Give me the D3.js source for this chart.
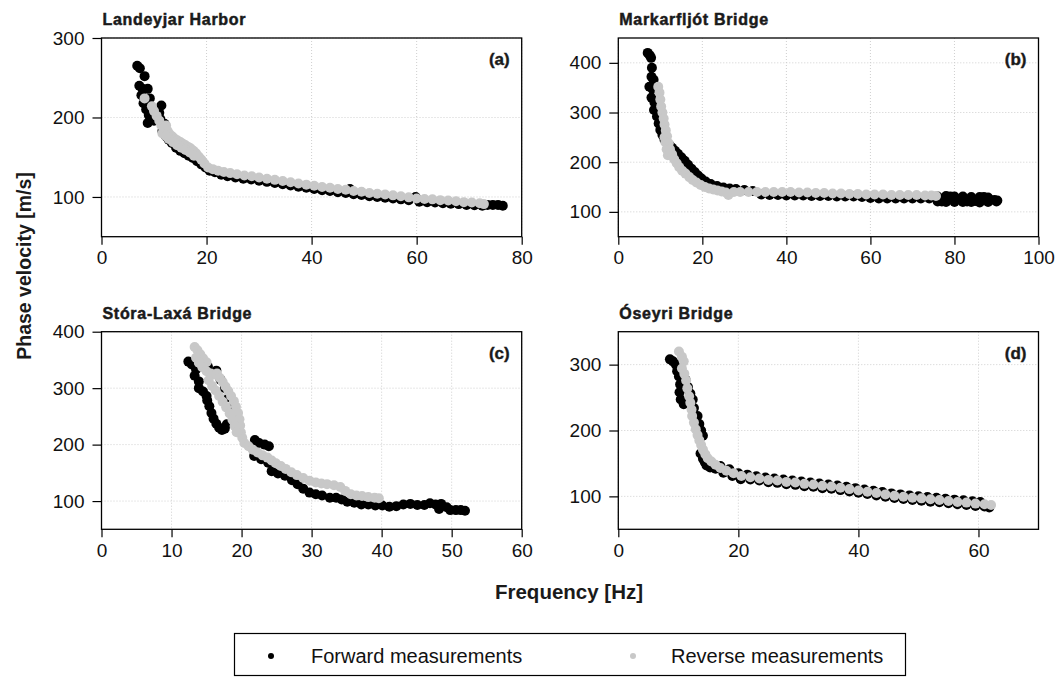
<!DOCTYPE html>
<html>
<head>
<meta charset="utf-8">
<script src="https://cdn.jsdelivr.net/npm/d3@7"></script>
<style>
  html, body { margin: 0; padding: 0; background: #ffffff; }
  svg { display: block; }
  text { font-family: "Liberation Sans", Arial, sans-serif; }
</style>
</head>
<body>
<svg id="chart" width="1062" height="677"></svg>
<script>
// ---------- data ----------
const panelTitles = ["Landeyjar Harbor", "Markarfljót Bridge", "Stóra-Laxá Bridge", "Óseyri Bridge"];
const panelTags = ["(a)", "(b)", "(c)", "(d)"];
const xAxisTitle = "Frequency [Hz]";
const yAxisTitle = "Phase velocity [m/s]";
const seriesNames = ["Forward measurements", "Reverse measurements"];

const xDomainA = [0, 80],  yDomainA = [50, 300];
const xDomainB = [0, 100], yDomainB = [50, 450];
const xDomainC = [0, 60],  yDomainC = [50, 400];
const xDomainD = [0, 70],  yDomainD = [50, 350];

const xTicksA = [0, 20, 40, 60, 80],        yTicksA = [100, 200, 300];
const xTicksB = [0, 20, 40, 60, 80, 100],   yTicksB = [100, 200, 300, 400];
const xTicksC = [0, 10, 20, 30, 40, 50, 60], yTicksC = [100, 200, 300, 400];
const xTicksD = [0, 20, 40, 60],            yTicksD = [100, 200, 300];

// [frequency Hz, phase velocity m/s]
const forwardA = [
  [6.8,265],[7.3,262],[8.2,252],[7.2,240],[7.8,236],[8.8,236],[7.6,228],[9.2,224],[8.0,218],[8.5,210],
  [9.0,203],[8.8,193],[9.6,210],[10.3,205],[11.4,215],[11.0,206],[10.0,196],[11.2,198],[12.0,192],[11.6,183],
  [12.3,176],[12.8,172],[13.4,168],[14.2,162],[15.0,158],[15.8,155],[16.6,152],[17.4,149],[18.2,145],[19.0,141],
  [19.8,137],[20.6,133],[21.6,131],[22.8,128],[24,126],[25.5,124.5],[27,123],[28.5,122],[30,120.5],[31.5,119],
  [33,117.5],[34.5,116],[36,114.5],[37.5,113],[39,111.5],[40.5,110],[42,108.5],[43.5,107.5],[45,106],[46.5,105],
  [47.3,110],[48,103.5],[49.5,102.5],[51,101],[52.5,100],[54,99],[55.5,98],[57,97],[58.5,96],[59.8,100],
  [60.5,94],[62,93.5],[63.5,93],[65,92],[66.5,91.5],[68,91],[69.5,90],[71,89.5],[72.5,89],[73.5,90],
  [74.5,90],[75.5,90],[76.4,89]
];
const reverseA = [
  [8.2,224],[9.6,214],[10.0,208],[10.5,202],[11.0,196],[11.4,190],[11.8,186],[12.3,190],[12.6,183],[13.0,179],
  [13.5,176],[14.0,173],[14.5,171],[15.0,169],[15.5,167],[16.0,165],[16.5,163],[17.0,161],[17.5,158],[18.0,155],
  [18.5,151],[19.0,147],[19.6,142],[20.3,137],[21.2,135],[22.2,133],[23.3,131.5],[24.5,130],[25.8,128.5],[27.2,127],
  [28.6,126],[30,124.5],[31.5,123],[33,121.5],[34.5,120],[36,118.5],[37.5,117],[39,115.5],[40.5,114],[42,112.5],
  [43.5,111.5],[45,110],[46.5,109],[48,107.5],[49.5,106.5],[51,105],[52.5,104],[54,103],[55.5,102],[57,101],
  [58.5,99.5],[60,98],[61.5,97.5],[63,97],[64.5,96],[66,95.5],[67.5,94.5],[69,93.5],[70.5,93],[72,92],[72.8,91],
  [12.8,173],[13.6,169],[14.4,165],[15.2,162],[16.0,159],[16.8,156],[17.6,152],[11.6,180],[12.2,177]
];

const forwardB = [
  [7.0,420],[7.5,415],[7.8,410],[8.0,390],[7.9,372],[8.4,366],[7.4,352],[8.1,348],[7.9,330],[8.6,320],
  [8.5,305],[9.2,292],[9.6,278],[10.0,265],[10.5,255],[11.0,245],[11.6,238],[12.2,234],[12.8,229],[13.5,223],
  [14.2,217],[15.0,210],[15.8,203],[16.6,195],[17.4,187],[18.2,180],[19.0,173],[19.8,167],[20.8,161],[22,156],
  [23.5,152],[25,149],[26.5,147],[28,146],[30,144],[32,142],[34,135],[36,134],[38,134],[40,133],
  [42,133],[44,133],[46,132],[48,132],[50,132],[52,131],[54,131],[56,131],[58,130],[60,128],
  [62,127],[64,127],[66,127],[68,127],[70,127],[72,127],[74,127],[76,126],[78,126],[80,126],
  [82,126],[84,126],[86,125],[88,125],[89.5,124],[90.2,123],[79,131],[83,121],[87,130],[85,122],[77,121],
  [76,131],[78,132],[80,131],[82,131],[84,130],[86,130],[88,129],
  [76,121],[78,120],[80,120],[82,120],[84,120],[86,119],[88,120],[90,121]
];
const reverseB = [
  [9.5,352],[9.8,340],[10.0,326],[10.2,312],[10.5,300],[10.8,288],[11.0,276],[11.3,264],[11.0,250],[11.6,252],
  [11.2,240],[12.0,238],[11.5,226],[12.3,226],[11.8,214],[12.8,216],[13.3,206],[13.9,198],[14.5,190],[15.2,183],
  [16.0,177],[16.9,170],[17.7,164],[18.6,159],[19.6,154],[20.6,150],[21.6,147],[22.6,145],[23.6,143],[24.6,141],
  [25.6,139],[26.2,134],[27.5,140],[29,140],[31,140],[33,140],[35,140],[37,140],[39,140],[41,140],
  [43,139],[45,139],[47,138],[49,138],[51,137],[53,137],[55,136],[57,136],[59,135],[61,135],
  [63,135],[65,134],[67,134],[69,134],[71,134],[73,133],[74.5,133],[75.6,132]
];

const forwardC = [
  [12.4,347],[12.9,342],[13.5,333],[13.3,322],[13.9,312],[13.9,300],[14.5,294],[15.0,286],[15.1,278],[15.4,268],
  [15.7,256],[16.0,246],[16.4,237],[16.8,230],[17.2,226],[17.6,228],[17.9,236],[15.2,338],[16.4,331],[17.0,315],
  [17.6,300],[18.2,284],[18.9,268],[19.3,255],[21.9,208],[22.5,203],[23.3,200],[23.9,197],[21.8,180],[22.8,174],
  [23.8,168],[24.3,153],[25.2,149],[26.2,145],[27.2,137],[28.0,130],[28.8,122],[29.7,115],[30.6,112],[31.5,110],
  [32.6,106],[33.5,106],[34.3,103],[35.1,99],[36.1,97],[37.1,94],[38.1,94],[39.1,92],[40.1,92],[41.1,90],
  [42.1,91],[43.1,94],[44.1,95],[45.1,93],[46.1,93],[46.9,96],[47.7,94],[48.5,95],[49.3,89],[48.2,86],
  [49.8,84],[50.6,84],[51.3,84],[51.9,83]
];
const reverseC = [
  [13.3,373],[13.7,367],[14.1,360],[14.5,353],[15.0,346],[13.5,354],[13.9,345],[14.4,337],[15.0,330],[15.6,326],
  [16.2,324],[16.5,326],[16.9,318],[17.3,311],[17.7,303],[18.1,295],[18.5,286],[18.9,277],[19.2,267],[19.5,256],
  [19.7,245],[19.8,234],[19.9,222],[20.1,212],[20.4,203],[21.0,197],[21.6,191],[22.3,186],[23.0,181],[23.7,177],
  [24.3,172],[24.9,167],[25.6,162],[26.3,157],[27.1,151],[27.9,146],[28.8,141],[29.7,136],[30.6,133],[31.4,131],
  [32.2,130],[33.2,128],[34.1,125],[34.8,118],[35.6,112],[36.4,110],[37.2,109],[38.1,107],[39.0,106],[39.6,105],
  [15.3,314],[15.8,304],[16.3,296],[16.8,286],[17.3,276],[17.8,266],[18.3,255],[18.7,244],[19.0,233],[19.3,222]
];

const forwardD = [
  [8.6,308],[9.1,305],[9.6,300],[9.8,290],[10.1,282],[10.3,270],[10.2,258],[10.4,247],[10.9,240],[11.2,277],
  [11.6,266],[12.0,256],[12.4,247],[12.6,234],[13.2,222],[13.5,210],[13.8,200],[14.1,192],[13.7,165],[14.1,157],
  [14.4,152],[14.7,147],[15.3,144],[16.2,142],
  [17,146],[18.5,141],[20,135],[21.5,133],[23,130.5],[24.5,128.5],[26,127],[27.5,125.5],[29,124],[30.5,122.5],
  [32,121],[33.5,119.5],[35,118],[36.5,116.5],[38,114.5],[39.5,112.5],[41,110.5],[42.5,108.5],[44,106.5],[45.5,104.5],
  [47,103],[48.5,101.5],[50,100],[51.5,99],[53,98],[54.5,96.5],[56,95],[57.5,94],[59,92.5],[60.3,91.5],
  [17.5,136],[19,131],[20.4,126],[22,125.5],[23.5,124],[25,121.5],[26.5,120.5],[28,118.5],[29.5,117.5],[31,115.5],
  [32.5,114.5],[34,112.5],[35.5,111.5],[37,109.5],[38.5,107.5],[40,105.5],[41.5,103.5],[43,101.5],[44.5,99.5],[46,97.5],
  [47.5,96],[49,94.5],[50.5,93.5],[52,92],[53.5,91],[55,89.5],[56.5,88],[58,87],[59.5,85.5],[61,84.5],[61.8,83]
];
const reverseD = [
  [10.1,320],[10.6,312],[10.9,305],[10.6,294],[11.0,286],[11.3,276],[11.5,264],[11.8,252],[12.0,242],[12.2,232],
  [12.3,222],[12.6,212],[12.9,202],[13.2,193],[13.5,185],[13.8,178],[14.1,171],[14.5,164],[14.9,158],[15.5,153],
  [16.2,148],[17.0,143],[18.0,139],[19.2,135],[20.5,131],[22.0,129],[23.5,127],[25.0,125],[26.5,124],[28.0,122],
  [29.5,121],[31.0,119],[32.5,118],[34.0,116],[35.5,115],[37.0,113],[38.5,111],[40.0,109],[41.5,107],[43.0,105],
  [44.5,103],[46.0,101],[47.5,99.5],[49.0,98],[50.5,97],[52.0,95.5],[53.5,94.5],[55.0,93],[56.5,91.5],[58.0,90.5],
  [59.5,89],[61.0,88],[62.1,87]
];

// ---------- layout / style ----------
const FORWARD_COLOR = "#000000";
const REVERSE_COLOR = "#c8c8c8";
const POINT_R = 5;

const panels = [
  { fwd: forwardA, rev: reverseA, xd: xDomainA, yd: yDomainA, xt: xTicksA, yt: yTicksA, title: panelTitles[0], tag: panelTags[0], x0: 101.5, x1: 521.7, y0: 38,    y1: 236.7 },
  { fwd: forwardB, rev: reverseB, xd: xDomainB, yd: yDomainB, xt: xTicksB, yt: yTicksB, title: panelTitles[1], tag: panelTags[1], x0: 618.3, x1: 1038.5, y0: 38,   y1: 236.7 },
  { fwd: forwardC, rev: reverseC, xd: xDomainC, yd: yDomainC, xt: xTicksC, yt: yTicksC, title: panelTitles[2], tag: panelTags[2], x0: 101.5, x1: 521.7, y0: 331.7, y1: 529.3 },
  { fwd: forwardD, rev: reverseD, xd: xDomainD, yd: yDomainD, xt: xTicksD, yt: yTicksD, title: panelTitles[3], tag: panelTags[3], x0: 618.3, x1: 1038.5, y0: 331.7, y1: 529.3 }
];

const svg = d3.select("#chart");

panels.forEach(p => {
  const x = d3.scaleLinear().domain(p.xd).range([p.x0, p.x1]);
  const y = d3.scaleLinear().domain(p.yd).range([p.y1, p.y0]);
  const g = svg.append("g");

  // grid
  g.append("g").selectAll("line").data(p.xt).join("line")
    .attr("x1", d => x(d)).attr("x2", d => x(d)).attr("y1", p.y0).attr("y2", p.y1)
    .attr("stroke", "#cfcfcf").attr("stroke-width", 1).attr("stroke-dasharray", "1,2");
  g.append("g").selectAll("line").data(p.yt).join("line")
    .attr("x1", p.x0).attr("x2", p.x1).attr("y1", d => y(d)).attr("y2", d => y(d))
    .attr("stroke", "#cfcfcf").attr("stroke-width", 1).attr("stroke-dasharray", "1,2");

  // points
  g.append("g").selectAll("circle").data(p.fwd).join("circle")
    .attr("cx", d => x(d[0])).attr("cy", d => y(d[1])).attr("r", POINT_R).attr("fill", FORWARD_COLOR);
  g.append("g").selectAll("circle").data(p.rev).join("circle")
    .attr("cx", d => x(d[0])).attr("cy", d => y(d[1])).attr("r", POINT_R).attr("fill", REVERSE_COLOR);

  // axes
  const xa = g.append("g").attr("transform", `translate(0,${p.y1})`)
    .call(d3.axisBottom(x).tickValues(p.xt).tickSize(8).tickPadding(6).tickFormat(d3.format("d")));
  const ya = g.append("g").attr("transform", `translate(${p.x0},0)`)
    .call(d3.axisLeft(y).tickValues(p.yt).tickSize(9).tickPadding(8).tickFormat(d3.format("d")));
  [xa, ya].forEach(a => {
    a.select(".domain").remove();
    a.selectAll("line").attr("stroke", "#000").attr("stroke-width", 1.2);
    a.selectAll("text").attr("font-size", 19).attr("fill", "#111")
      .attr("font-family", "Liberation Sans, Arial, sans-serif");
  });

  // box
  g.append("rect").attr("x", p.x0).attr("y", p.y0)
    .attr("width", p.x1 - p.x0).attr("height", p.y1 - p.y0)
    .attr("fill", "none").attr("stroke", "#000").attr("stroke-width", 1.3);

  // title
  g.append("text").attr("x", p.x0 + 1).attr("y", p.y0 - 13)
    .attr("font-size", 16).attr("font-weight", "bold").attr("fill", "#1a1a1a")
    .attr("letter-spacing", "0.7px").attr("stroke", "#1a1a1a").attr("stroke-width", 0.5)
    .text(p.title);
  // tag
  g.append("text").attr("x", p.x1 - 12).attr("y", p.y0 + 27).attr("text-anchor", "end")
    .attr("font-size", 17).attr("font-weight", "bold").attr("fill", "#1a1a1a")
    .attr("stroke", "#1a1a1a").attr("stroke-width", 0.4)
    .text(p.tag);
});

// axis titles
svg.append("text").attr("x", 569).attr("y", 599).attr("text-anchor", "middle")
  .attr("font-size", 20.5).attr("font-weight", "bold").attr("fill", "#1a1a1a")
  .text(xAxisTitle);
svg.append("text").attr("transform", "translate(31,266) rotate(-90)").attr("text-anchor", "middle")
  .attr("font-size", 19.5).attr("font-weight", "bold").attr("fill", "#1a1a1a")
  .text(yAxisTitle);

// legend
const lg = svg.append("g");
lg.append("rect").attr("x", 234.5).attr("y", 633.5).attr("width", 671).attr("height", 42)
  .attr("fill", "#fff").attr("stroke", "#000").attr("stroke-width", 1.2);
const legendItems = [
  { name: seriesNames[0], color: FORWARD_COLOR, cx: 271, tx: 311 },
  { name: seriesNames[1], color: REVERSE_COLOR, cx: 633, tx: 671 }
];
legendItems.forEach(it => {
  lg.append("circle").attr("cx", it.cx).attr("cy", 656).attr("r", 3).attr("fill", it.color);
  lg.append("text").attr("x", it.tx).attr("y", 663).attr("font-size", 20).attr("fill", "#111")
    .text(it.name);
});
</script>
</body>
</html>
